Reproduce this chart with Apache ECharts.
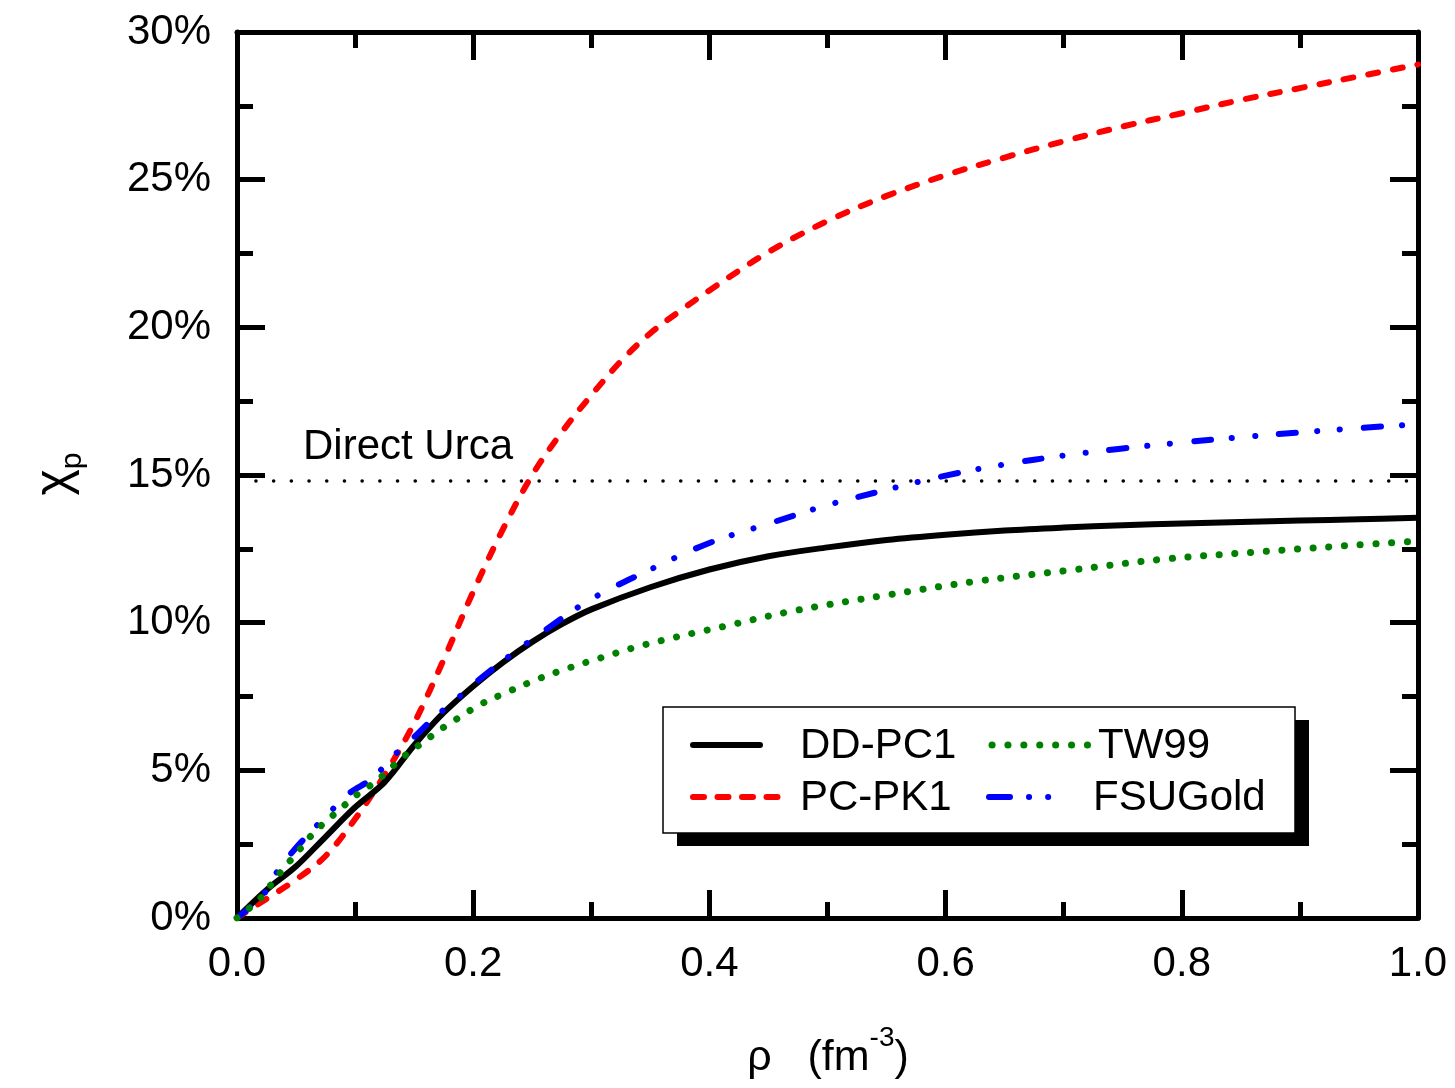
<!DOCTYPE html>
<html>
<head>
<meta charset="utf-8">
<title>Proton fraction vs density</title>
<script src="https://cdn.jsdelivr.net/npm/echarts@6/dist/echarts.min.js"></script>
<style>
  html, body { margin: 0; padding: 0; background: #fff; }
  #chart { width: 1455px; height: 1088px; }
</style>
</head>
<body>
<div id="chart"></div>
<script>
// density rho (fm^-3) and proton fraction (%)
var rhoDD = [0, 0.025, 0.05, 0.075, 0.1, 0.125, 0.15, 0.175, 0.2, 0.225, 0.25, 0.275, 0.3, 0.35, 0.4, 0.45, 0.5, 0.55, 0.6, 0.65, 0.7, 0.75, 0.8, 0.85, 0.9, 0.95, 1.0];
var valDD = [0, 0.95, 1.75, 2.75, 3.75, 4.6, 5.85, 6.95, 7.85, 8.65, 9.35, 9.95, 10.45, 11.2, 11.8, 12.25, 12.55, 12.8, 12.98, 13.12, 13.22, 13.3, 13.36, 13.41, 13.46, 13.5, 13.55];

var rhoPK = [0, 0.025, 0.05, 0.075, 0.1, 0.125, 0.15, 0.175, 0.2, 0.225, 0.25, 0.275, 0.3, 0.325, 0.35, 0.375, 0.4, 0.45, 0.5, 0.55, 0.6, 0.65, 0.7, 0.75, 0.8, 0.85, 0.9, 0.95, 1.0];
var valPK = [0, 0.65, 1.3, 2.1, 3.35, 4.85, 6.6, 8.75, 11.05, 13.15, 15.0, 16.45, 17.7, 18.85, 19.8, 20.55, 21.25, 22.55, 23.6, 24.45, 25.15, 25.75, 26.3, 26.8, 27.25, 27.7, 28.1, 28.5, 28.9];

var rhoTW = [0, 0.019, 0.029, 0.039, 0.05, 0.061, 0.074, 0.087, 0.099, 0.113, 0.126, 0.138, 0.152, 0.165, 0.178, 0.191, 0.204, 0.23, 0.256, 0.282, 0.308, 0.334, 0.36, 0.387, 0.412, 0.47, 0.548, 0.626, 0.704, 0.782, 0.859, 0.937, 1.0];
var valTW = [0, 0.63, 1.14, 1.66, 2.17, 2.71, 3.23, 3.67, 4.1, 4.49, 4.91, 5.37, 5.79, 6.17, 6.54, 6.86, 7.19, 7.67, 8.11, 8.48, 8.81, 9.13, 9.4, 9.65, 9.87, 10.39, 10.92, 11.4, 11.77, 12.14, 12.38, 12.6, 12.76];

var rhoFSU = [0, 0.022, 0.033, 0.047, 0.064, 0.078, 0.095, 0.115, 0.132, 0.148, 0.165, 0.185, 0.204, 0.232, 0.26, 0.3, 0.35, 0.4, 0.45, 0.5, 0.55, 0.6, 0.65, 0.7, 0.75, 0.8, 0.85, 0.9, 0.95, 1.0];
var valFSU = [0, 0.78, 1.51, 2.24, 2.98, 3.56, 4.22, 4.74, 5.47, 6.05, 6.71, 7.38, 8.04, 8.91, 9.72, 10.8, 11.8, 12.7, 13.35, 13.98, 14.5, 14.98, 15.36, 15.66, 15.9, 16.1, 16.28, 16.44, 16.59, 16.72];

// direct Urca threshold
var urcaRho = [0.016, 1.0];
var urcaVal = [14.8, 14.8];

var seriesNames = ['DD-PC1', 'PC-PK1', 'TW99', 'FSUGold'];

var FONT = "'Liberation Sans', Arial, Helvetica, sans-serif";
var FS = 42;

function pairs(xs, ys) {
  var out = [];
  for (var i = 0; i < xs.length; i++) out.push([xs[i], ys[i]]);
  return out;
}

var chart = echarts.init(document.getElementById('chart'), null, { renderer: 'canvas' });

var axisBase = {
  axisLine: { show: true, onZero: false, lineStyle: { color: '#000', width: 5 } },
  axisTick: { show: true, inside: true, length: 28, lineStyle: { color: '#000', width: 5 } },
  minorTick: { show: true, splitNumber: 2, length: 16, lineStyle: { color: '#000', width: 5 } },
  splitLine: { show: false },
  minorSplitLine: { show: false }
};

function xAxisOpt(pos, showLabel) {
  return Object.assign({}, axisBase, {
    type: 'value', position: pos, min: 0, max: 1, interval: 0.2,
    axisLabel: {
      show: showLabel, margin: 25, color: '#000', fontSize: FS, fontFamily: FONT,
      formatter: function (v) { return v.toFixed(1); }
    }
  });
}
function yAxisOpt(pos, showLabel) {
  return Object.assign({}, axisBase, {
    type: 'value', position: pos, min: 0, max: 30, interval: 5,
    axisLabel: {
      show: showLabel, margin: 26, color: '#000', fontSize: FS, fontFamily: FONT,
      formatter: '{value}%'
    }
  });
}

var lineCommon = { type: 'line', showSymbol: false, symbol: 'none', smooth: 0.35, animation: false };

var option = {
  animation: false,
  backgroundColor: '#fff',
  grid: { left: 237, right: 37, top: 32, bottom: 170, containLabel: false, outerBoundsMode: 'none' },
  xAxis: [xAxisOpt('bottom', true), xAxisOpt('top', false)],
  yAxis: [yAxisOpt('left', true), yAxisOpt('right', false)],
  series: [
    Object.assign({}, lineCommon, {
      name: 'urca', z: 1, smooth: false,
      data: pairs(urcaRho, urcaVal),
      lineStyle: { color: '#000', width: 3.5, type: [0.1, 17.6], cap: 'round' }
    }),
    Object.assign({}, lineCommon, {
      name: seriesNames[0], z: 4,
      data: pairs(rhoDD, valDD),
      lineStyle: { color: '#000', width: 6, type: 'solid', cap: 'round', join: 'round' }
    }),
    Object.assign({}, lineCommon, {
      name: seriesNames[1], z: 3,
      data: pairs(rhoPK, valPK),
      lineStyle: { color: '#ff0000', width: 6, type: [10, 15], cap: 'round', join: 'round' }
    }),
    Object.assign({}, lineCommon, {
      name: seriesNames[2], z: 5,
      data: pairs(rhoTW, valTW),
      lineStyle: { color: '#008000', width: 7, type: [0.1, 15.6], cap: 'round', join: 'round' }
    }),
    Object.assign({}, lineCommon, {
      name: seriesNames[3], z: 4,
      data: pairs(rhoFSU, valFSU),
      lineStyle: { color: '#0000ff', width: 6, type: [17, 21, 0.1, 23, 0.1, 24], cap: 'round', join: 'round' }
    })
  ],
  graphic: [
    // axis titles
    {
      type: 'text', x: 52, y: 474, rotation: Math.PI / 2, z: 10,
      style: {
        text: '{a|χ}{s|p}', align: 'center', verticalAlign: 'middle',
        rich: {
          a: { fontSize: 50, fontFamily: FONT, fill: '#000', lineHeight: 56, verticalAlign: 'bottom' },
          s: { fontSize: 30, fontFamily: FONT, fill: '#000', verticalAlign: 'bottom', padding: [0, 0, -8, 0] }
        }
      }
    },
    {
      type: 'text', x: 828, y: 1052, z: 10,
      style: {
        text: '{a|ρ   (fm}{s|-3}{a|)}', align: 'center', verticalAlign: 'middle',
        rich: {
          a: { fontSize: 43, fontFamily: FONT, fill: '#000', lineHeight: 56, verticalAlign: 'bottom' },
          s: { fontSize: 28, fontFamily: FONT, fill: '#000', verticalAlign: 'top', lineHeight: 30 }
        }
      }
    },
    // Direct Urca label
    {
      type: 'text', x: 303, y: 447, z: 10,
      style: { text: 'Direct Urca', fontSize: FS, fontFamily: FONT, fill: '#000', align: 'left', verticalAlign: 'middle' }
    },
    // legend shadow and box
    { type: 'rect', z: 20, shape: { x: 677, y: 720, width: 632, height: 126 }, style: { fill: '#000' } },
    { type: 'rect', z: 21, shape: { x: 663, y: 707, width: 632, height: 126 }, style: { fill: '#fff', stroke: '#000', lineWidth: 1.5 } },
    // legend samples
    { type: 'line', z: 22, shape: { x1: 693, y1: 745, x2: 760, y2: 745 }, style: { stroke: '#000', lineWidth: 6, lineCap: 'round' } },
    { type: 'line', z: 22, shape: { x1: 693, y1: 797, x2: 779, y2: 797 }, style: { stroke: '#ff0000', lineWidth: 6, lineCap: 'round', lineDash: [11, 13.5] } },
    { type: 'line', z: 22, shape: { x1: 992, y1: 745, x2: 1088, y2: 745 }, style: { stroke: '#008000', lineWidth: 7, lineCap: 'round', lineDash: [0.1, 15.8] } },
    { type: 'line', z: 22, shape: { x1: 989, y1: 797, x2: 1052, y2: 797 }, style: { stroke: '#0000ff', lineWidth: 6, lineCap: 'round', lineDash: [21, 19, 0.1, 19, 0.1, 100] } },
    // legend labels
    { type: 'text', z: 22, x: 800, y: 746, style: { text: seriesNames[0], fontSize: FS, fontFamily: FONT, fill: '#000', verticalAlign: 'middle' } },
    { type: 'text', z: 22, x: 800, y: 798, style: { text: seriesNames[1], fontSize: FS, fontFamily: FONT, fill: '#000', verticalAlign: 'middle' } },
    { type: 'text', z: 22, x: 1098, y: 746, style: { text: seriesNames[2], fontSize: FS, fontFamily: FONT, fill: '#000', verticalAlign: 'middle' } },
    { type: 'text', z: 22, x: 1093, y: 798, style: { text: seriesNames[3], fontSize: FS, fontFamily: FONT, fill: '#000', verticalAlign: 'middle' } }
  ]
};

chart.setOption(option);
</script>
</body>
</html>
